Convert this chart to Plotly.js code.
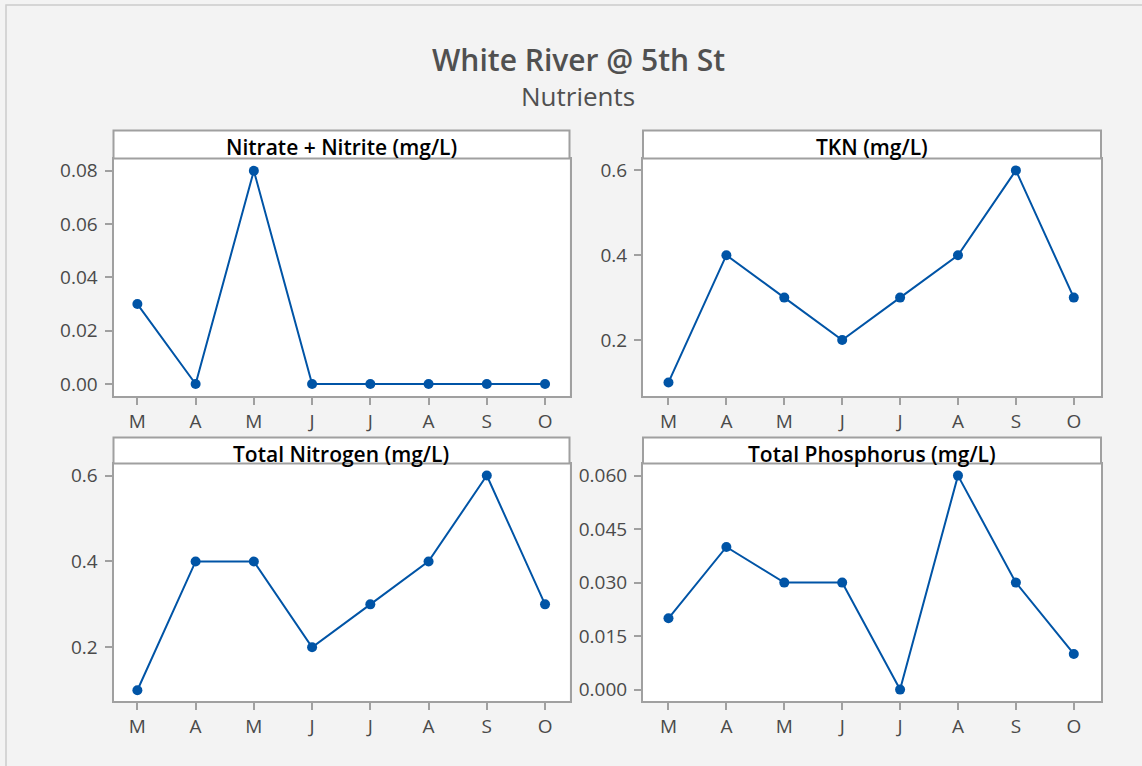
<!DOCTYPE html>
<html>
<head>
<meta charset="utf-8">
<script src="https://cdn.plot.ly/plotly-3.0.1.min.js"></script>
<style>html,body{margin:0;padding:0;background:#f3f3f3;}#chart{width:1142px;height:766px;}</style>
</head>
<body>
<div id="chart"></div>
<script>
// ---- data ----
const months = ["M", "A", "M", "J", "J", "A", "S", "O"];
const panelTitles = ["Nitrate + Nitrite (mg/L)", "TKN (mg/L)", "Total Nitrogen (mg/L)", "Total Phosphorus (mg/L)"];
const nitrateNitrite = [0.03, 0.0, 0.08, 0.0, 0.0, 0.0, 0.0, 0.0];
const tkn = [0.1, 0.4, 0.3, 0.2, 0.3, 0.4, 0.6, 0.3];
const totalNitrogen = [0.1, 0.4, 0.4, 0.2, 0.3, 0.4, 0.6, 0.3];
const totalPhosphorus = [0.02, 0.04, 0.03, 0.03, 0.0, 0.06, 0.03, 0.01];
const yTickVals = [
  [0, 0.02, 0.04, 0.06, 0.08],
  [0.2, 0.4, 0.6],
  [0.2, 0.4, 0.6],
  [0, 0.015, 0.03, 0.045, 0.06]
];
const yTickText = [
  ["0.00", "0.02", "0.04", "0.06", "0.08"],
  ["0.2", "0.4", "0.6"],
  ["0.2", "0.4", "0.6"],
  ["0.000", "0.015", "0.030", "0.045", "0.060"]
];
const series = [nitrateNitrite, tkn, totalNitrogen, totalPhosphorus];

// ---- layout geometry (pixels) ----
const W = 1142, H = 766;
const px = v => v / W;
const py = v => 1 - v / H;
const boxes = [
  {l: 113.5, r: 569.5, htop: 130.5, top: 158.5, bot: 396, xr: [-0.41, 7.42], yr: [-0.0045, 0.0846]},
  {l: 643, r: 1101, htop: 130.5, top: 158.5, bot: 396, xr: [-0.44, 7.47], yr: [0.068, 0.628]},
  {l: 113.5, r: 569.5, htop: 437.5, top: 463.5, bot: 701, xr: [-0.41, 7.42], yr: [0.075, 0.628]},
  {l: 643, r: 1101, htop: 437.5, top: 463.5, bot: 701, xr: [-0.44, 7.47], yr: [-0.0032, 0.0634]}
];

const blue = "#0054a6";
const frame = "#a0a0a0";
const fam = "Open Sans, Noto Sans, sans-serif";
const tickFont = {family: fam, size: 19, color: "#4a4a4a"};

const data = [];
const layout = {
  width: W, height: H,
  margin: {l: 0, r: 0, t: 0, b: 0},
  paper_bgcolor: "#f3f3f3",
  plot_bgcolor: "#ffffff",
  showlegend: false,
  shapes: [],
  annotations: [],
  font: {family: fam}
};

const xIdx = months.map((m, i) => i);

series.forEach((vals, k) => {
  const n = k === 0 ? "" : String(k + 1);
  const b = boxes[k];
  data.push({
    x: xIdx, y: vals, xaxis: "x" + n, yaxis: "y" + n,
    type: "scatter", mode: "lines+markers",
    line: {color: blue, width: 2},
    marker: {color: blue, size: 10},
    hoverinfo: "skip"
  });
  layout["xaxis" + n] = {
    domain: [px(b.l), px(b.r)], anchor: "y" + n,
    range: b.xr, tickvals: xIdx, ticktext: months,
    showgrid: false, zeroline: false,
    showline: true, mirror: true, linecolor: frame, linewidth: 2,
    ticks: "outside", ticklen: 7, tickwidth: 2, tickcolor: frame,
    tickfont: tickFont, fixedrange: true
  };
  layout["yaxis" + n] = {
    domain: [py(b.bot), py(b.top)], anchor: "x" + n,
    range: b.yr, tickvals: yTickVals[k], ticktext: yTickText[k],
    showgrid: false, zeroline: false,
    showline: true, mirror: true, linecolor: frame, linewidth: 2,
    ticks: "outside", ticklen: 7, tickwidth: 2, tickcolor: frame,
    tickfont: tickFont, ticklabelstandoff: 3, fixedrange: true
  };
  layout.shapes.push({
    type: "rect", xref: "paper", yref: "paper",
    x0: px(b.l), x1: px(b.r), y0: py(b.top), y1: py(b.htop),
    fillcolor: "#ffffff", line: {color: frame, width: 2}
  });
  layout.annotations.push({
    xref: "paper", yref: "paper",
    x: px((b.l + b.r) / 2), y: py((b.top + b.htop) / 2 + 3),
    xanchor: "center", yanchor: "middle", showarrow: false,
    text: panelTitles[k],
    font: {family: fam, size: 21, color: "#000000", weight: 600}
  });
});

// outer border
layout.shapes.push({
  type: "rect", xref: "paper", yref: "paper",
  x0: px(6), x1: px(1160), y0: py(790), y1: py(5),
  line: {color: "#cccccc", width: 1.5}, fillcolor: "rgba(0,0,0,0)", layer: "below"
});

// titles
layout.annotations.push({
  xref: "paper", yref: "paper", x: px(578), y: py(59),
  xanchor: "center", yanchor: "middle", showarrow: false,
  text: "White River @ 5th St",
  font: {family: fam, size: 30, color: "#505050", weight: 600}
});
layout.annotations.push({
  xref: "paper", yref: "paper", x: px(578), y: py(96),
  xanchor: "center", yanchor: "middle", showarrow: false,
  text: "Nutrients",
  font: {family: fam, size: 26, color: "#505050"}
});

Plotly.newPlot("chart", data, layout, {displayModeBar: false, staticPlot: true});
</script>
</body>
</html>
